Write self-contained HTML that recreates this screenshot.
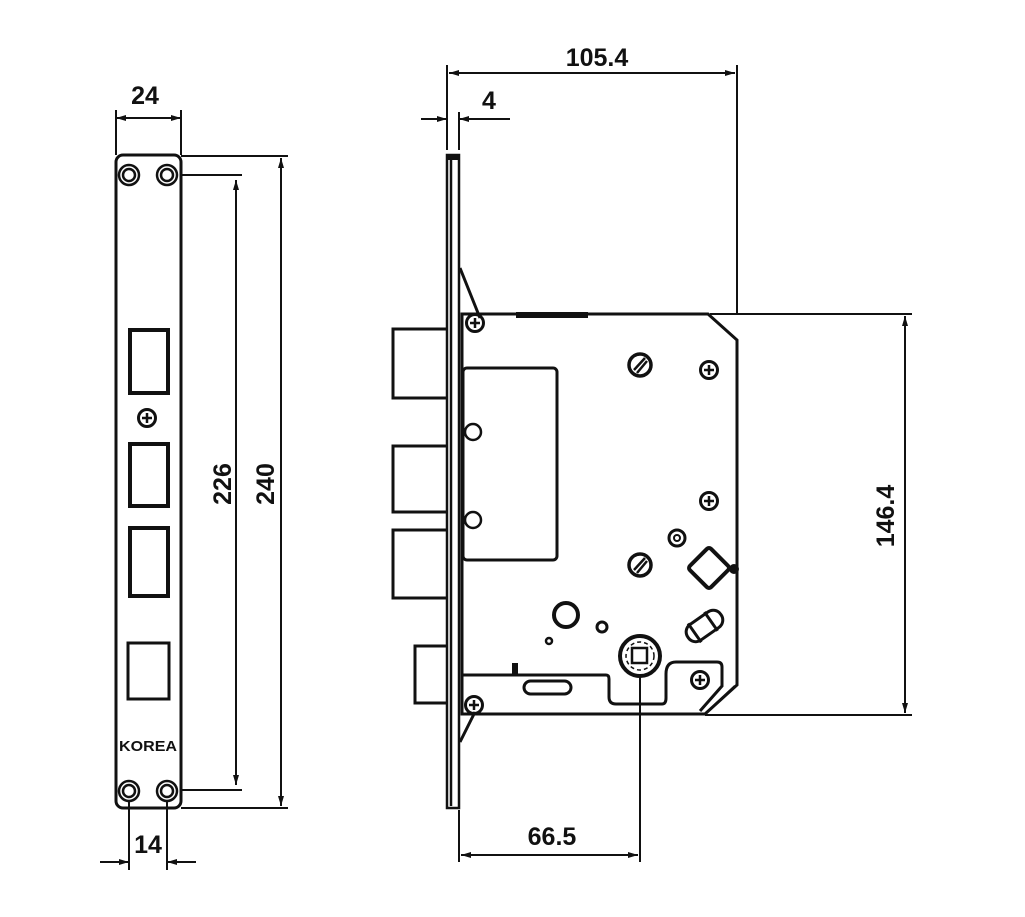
<!DOCTYPE html>
<html><head><meta charset="utf-8"><style>
html,body{margin:0;padding:0;background:#fff}
svg{display:block}
text{font-family:"Liberation Sans",sans-serif;font-weight:bold;font-size:25px;fill:#111}
</style></head><body>
<svg width="1025" height="917" viewBox="0 0 1025 917" xmlns="http://www.w3.org/2000/svg">
<defs>
<marker id="a" viewBox="0 0 10 6" refX="10" refY="3" markerWidth="10" markerHeight="6" orient="auto-start-reverse" markerUnits="userSpaceOnUse"><path d="M0,0L10,3L0,6z" fill="#111"/></marker>
<g id="plus"><circle r="8.5" fill="none" stroke="#111" stroke-width="3"/><path d="M-5,0H5M0,-5V5" stroke="#111" stroke-width="2.5"/></g>
<g id="slot"><circle r="11" fill="none" stroke="#111" stroke-width="3.5"/><path d="M-6,5L5,-7M-3,8L7,-4" stroke="#111" stroke-width="2.5"/></g>
<g id="hole"><circle r="10" fill="none" stroke="#111" stroke-width="2.5"/><circle r="6" fill="none" stroke="#111" stroke-width="2.5"/></g>
</defs>
<g fill="none" stroke="#111" stroke-width="2">
<rect x="116" y="155" width="65" height="653" rx="7" stroke-width="3"/>
<use href="#hole" x="129" y="175"/><use href="#hole" x="167" y="175"/>
<use href="#hole" x="129" y="791"/><use href="#hole" x="167" y="791"/>
<rect x="130" y="330" width="38" height="63" stroke-width="4"/>
<rect x="130" y="444" width="38" height="62" stroke-width="4"/>
<rect x="130" y="528" width="38" height="68" stroke-width="4"/>
<rect x="128" y="643" width="41" height="56" stroke-width="3"/>
<use href="#plus" x="147" y="418"/>
<path d="M116,110V155M181,110V155"/>
<path d="M116,118H181" marker-start="url(#a)" marker-end="url(#a)"/>
<path d="M181,175H242M181,790H242"/>
<path d="M236,180V785" marker-start="url(#a)" marker-end="url(#a)"/>
<path d="M181,156H288M181,808H288"/>
<path d="M281,158V806" marker-start="url(#a)" marker-end="url(#a)"/>
<path d="M129,800V870M167,800V870"/>
<path d="M100,862H129" marker-end="url(#a)"/><path d="M196,862H167" marker-end="url(#a)"/>
<rect x="447" y="155" width="12" height="653" stroke-width="2.5"/>
<path d="M451,158V806" stroke-width="2.5"/>
<rect x="448" y="155" width="10" height="4" fill="#111"/>
<path d="M447,329H393V398H447M447,446H393V512H447M447,530H393V598H447M447,646H415V703H447" stroke-width="3"/>
<path d="M462,314H708L737,340V685L705,714H462Z" stroke-width="3"/>
<path d="M705,714L735,686" stroke-width="2.5"/>
<path d="M460,268L480,318M475,712L460,742" stroke-width="3"/>
<rect x="517" y="313" width="70" height="4" fill="#111"/>
<rect x="463" y="368" width="94" height="192" rx="4" stroke-width="3"/>
<circle cx="473" cy="432" r="8" stroke-width="2.5"/><circle cx="473" cy="520" r="8" stroke-width="2.5"/>
<use href="#plus" x="475" y="323"/><use href="#plus" x="709" y="370"/><use href="#plus" x="709" y="501"/>
<use href="#plus" x="700" y="680"/><use href="#plus" x="474" y="705"/>
<use href="#slot" x="640" y="365"/><use href="#slot" x="640" y="565"/>
<circle cx="677" cy="538" r="8" stroke-width="3"/><circle cx="677" cy="538" r="3" stroke-width="2"/>
<rect x="694" y="553" width="30" height="30" rx="3" transform="rotate(45 709 568)" stroke-width="4"/>
<circle cx="734" cy="569" r="4" fill="#111"/>
<g transform="rotate(-35 705 625)"><rect x="684" y="616" width="40" height="19" rx="9" stroke-width="3"/><path d="M692,614V637M712,614V637" stroke-width="3"/></g>
<circle cx="566" cy="615" r="12" stroke-width="4"/>
<circle cx="602" cy="627" r="5" stroke-width="3"/>
<circle cx="549" cy="641" r="3" stroke-width="2.5"/>
<circle cx="640" cy="656" r="20" stroke-width="4"/>
<circle cx="640" cy="656" r="14" stroke-width="1.5" stroke-dasharray="4 3"/>
<rect x="632" y="648" width="15" height="15" stroke-width="2.5"/>
<path d="M462,675H606Q609,675 609,679V697Q609,704 616,704H662Q666,704 666,698V674Q666,662 676,662H717Q722,662 722,667V686L700,711" stroke-width="3"/>
<rect x="513" y="664" width="4" height="11" fill="#111"/>
<rect x="524" y="681" width="47" height="13" rx="6.5" stroke-width="3"/>
<path d="M447,65V150M737,65V314"/>
<path d="M449,73H735" marker-start="url(#a)" marker-end="url(#a)"/>
<path d="M459,112V150"/>
<path d="M421,119H447" marker-end="url(#a)"/><path d="M510,119H459" marker-end="url(#a)"/>
<path d="M710,314H912M705,715H912"/>
<path d="M905,316V713" marker-start="url(#a)" marker-end="url(#a)"/>
<path d="M459,810V862M640,676V862"/>
<path d="M461,855H638" marker-start="url(#a)" marker-end="url(#a)"/>
</g>
<text x="145" y="104" text-anchor="middle">24</text>
<text x="148" y="853" text-anchor="middle">14</text>
<text transform="translate(231,484) rotate(-90)" text-anchor="middle">226</text>
<text transform="translate(274,484) rotate(-90)" text-anchor="middle">240</text>
<text x="597" y="66" text-anchor="middle">105.4</text>
<text x="489" y="109" text-anchor="middle">4</text>
<text x="552" y="845" text-anchor="middle">66.5</text>
<text transform="translate(894,516) rotate(-90)" text-anchor="middle">146.4</text>
<text x="148" y="751" text-anchor="middle" textLength="58" lengthAdjust="spacingAndGlyphs" style="font-size:15px;font-weight:900">KOREA</text>
</svg>
</body></html>
